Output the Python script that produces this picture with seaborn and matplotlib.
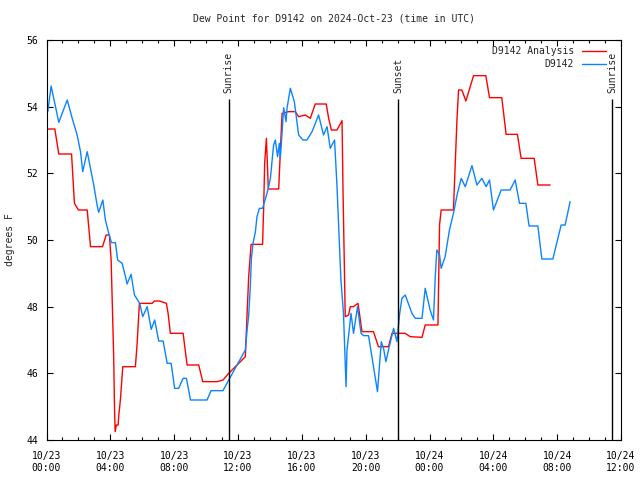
import matplotlib
matplotlib.use("Agg")
import matplotlib.pyplot as plt
from matplotlib.ticker import MultipleLocator
import seaborn as sns
import pandas as pd

title = "Dew Point for D9142 on 2024-Oct-23 (time in UTC)"

# hours since 2024-10-23 00:00 UTC, dew point in deg F
analysis_hours = [0.0, 0.52, 0.77, 1.57, 1.75, 2.0, 2.55, 2.76, 3.51, 3.74, 3.94, 4.05,
                  4.13, 4.21, 4.26, 4.30, 4.38, 4.49, 4.53, 4.63, 4.78, 5.57, 5.68, 5.82,
                  6.62, 6.76, 7.08, 7.51, 7.62, 7.76, 8.56, 8.81, 9.54, 9.79, 10.69, 11.06,
                  11.42, 12.46, 12.57, 12.67, 12.82, 13.54, 13.61, 13.67, 13.78, 13.9, 14.03,
                  14.55, 14.76, 15.17, 15.59, 15.8, 16.22, 16.53, 16.84, 17.53, 17.68, 17.85,
                  18.2, 18.52, 18.58, 18.72, 18.93, 19.04, 19.24, 19.52, 19.77, 20.49, 20.8,
                  21.43, 21.65, 22.48, 22.79, 23.53, 23.73, 24.53, 24.63, 24.73, 25.5, 25.72,
                  25.82, 26.03, 26.28, 26.76, 27.53, 27.76, 28.53, 28.8, 29.51, 29.74, 30.56,
                  30.79, 31.56]
analysis_dewpt = [53.33, 53.33, 52.58, 52.58, 51.1, 50.9, 50.9, 49.8, 49.8, 50.15, 50.15, 49.4,
                  47.96, 46.5, 45.0, 44.25, 44.45, 44.45, 44.75, 45.2, 46.2, 46.2, 46.9, 48.1,
                  48.1, 48.17, 48.17, 48.1, 47.8, 47.2, 47.2, 46.25, 46.25, 45.75, 45.75, 45.8,
                  46.0, 46.5, 47.8, 48.9, 49.87, 49.87, 51.0, 52.3, 53.05, 51.53, 51.53,
                  51.53, 53.8, 53.85, 53.85, 53.7, 53.75, 53.65, 54.08, 54.08, 53.65, 53.3,
                  53.3, 53.58, 51.5, 47.7, 47.75, 48.0, 48.0, 48.1, 47.25, 47.25, 46.8,
                  46.8, 47.2, 47.2, 47.1, 47.08, 47.45, 47.45, 50.45, 50.9, 50.9, 53.6,
                  54.5, 54.5, 54.17, 54.93, 54.93, 54.27, 54.27, 53.17, 53.17, 52.45, 52.45,
                  51.65, 51.65]

obs_hours = [0.08, 0.29, 0.77, 1.30, 1.61, 1.92, 2.13, 2.27, 2.55, 2.96, 3.17, 3.27, 3.53,
             3.69, 3.90, 4.07, 4.32, 4.46, 4.74, 4.95, 5.05, 5.30, 5.51, 5.84, 6.03, 6.31,
             6.56, 6.78, 7.03, 7.31, 7.56, 7.81, 8.03, 8.28, 8.56, 8.77, 9.02, 10.06, 10.31,
             11.06, 11.42, 12.46, 12.57, 12.67, 12.77, 12.84, 12.94, 13.09, 13.19, 13.34,
             13.54, 13.76, 13.92, 14.03, 14.23, 14.34, 14.48, 14.59, 14.65, 14.76, 14.86,
             15.01, 15.07, 15.28, 15.53, 15.80, 16.07, 16.32, 16.64, 17.05, 17.36, 17.58,
             17.78, 18.05, 18.20, 18.45, 18.61, 18.77, 18.83, 18.99, 19.08, 19.24, 19.49,
             19.71, 19.87, 20.18, 20.39, 20.74, 20.98, 21.12, 21.27, 21.43, 21.75, 21.96,
             22.12, 22.27, 22.48, 22.90, 23.11, 23.53, 23.73, 24.04, 24.25, 24.36, 24.46,
             24.63, 24.73, 24.98, 25.25, 25.50, 25.75, 25.99, 26.24, 26.66, 26.97, 27.28,
             27.55, 27.76, 28.01, 28.49, 29.05, 29.37, 29.64, 30.04, 30.24, 30.79, 31.04,
             31.73, 32.25, 32.50, 32.81]
obs_dewpt = [53.85, 54.62, 53.53, 54.2, 53.65, 53.15, 52.65, 52.05, 52.65, 51.65, 51.05, 50.83,
             51.2, 50.6, 50.2, 49.92, 49.92, 49.4, 49.3, 48.9, 48.68, 48.97, 48.35, 48.1, 47.7,
             48.0, 47.32, 47.6, 46.97, 46.97, 46.3, 46.3, 45.55, 45.55, 45.85, 45.85, 45.2,
             45.2, 45.48, 45.48, 45.8, 46.7, 47.3, 47.75, 48.6, 49.45, 49.9, 50.25, 50.7,
             50.95, 50.95, 51.3, 51.6, 51.85, 52.85, 53.0, 52.5, 52.9, 52.45, 53.2, 53.97,
             53.55, 53.95, 54.55, 54.15, 53.15, 53.0, 53.0, 53.25, 53.75, 53.15, 53.4, 52.75,
             53.0, 51.65, 48.8, 47.8, 45.6, 46.7, 47.4, 47.8, 47.2, 48.0, 47.2, 47.13, 47.13,
             46.5, 45.45, 46.95, 46.75, 46.35, 46.7, 47.35, 46.95, 47.75, 48.25, 48.35, 47.8,
             47.65, 47.65, 48.55, 47.9, 47.6, 48.9, 49.7, 49.55, 49.15, 49.5, 50.3, 50.8,
             51.4, 51.85, 51.6, 52.23, 51.65, 51.85, 51.6, 51.8, 50.9, 51.5, 51.5, 51.8,
             51.1, 51.1, 50.42, 50.42, 49.43, 49.43, 50.45, 50.45, 51.15]

sun_events = ["Sunrise", "Sunset", "Sunrise"]
sun_hours = [11.42, 22.04, 35.45]

tick_hours = [0, 4, 8, 12, 16, 20, 24, 28, 32, 36]
tick_labels = ["10/23\n00:00", "10/23\n04:00", "10/23\n08:00", "10/23\n12:00", "10/23\n16:00",
               "10/23\n20:00", "10/24\n00:00", "10/24\n04:00", "10/24\n08:00", "10/24\n12:00"]

sns.set_style("ticks")
plt.rcParams['font.family'] = ['DejaVu Sans Mono']
plt.rcParams['font.size'] = 7

fig = plt.figure(figsize=(6.4, 4.8), dpi=100)
ax = fig.add_axes([46.5 / 640, 40 / 480, 574.5 / 640, 400 / 480])

analysis = pd.DataFrame({'hour': analysis_hours, 'dewpt': analysis_dewpt})
obs = pd.DataFrame({'hour': obs_hours, 'dewpt': obs_dewpt})

sns.lineplot(data=analysis, x='hour', y='dewpt', color='#ff0000', lw=1, sort=False,
             estimator=None, label='D9142 Analysis', ax=ax)
sns.lineplot(data=obs, x='hour', y='dewpt', color='#0a84ff', lw=1, sort=False,
             estimator=None, label='D9142', ax=ax)

# sunrise / sunset markers
for name, h in zip(sun_events, sun_hours):
    ax.vlines(h, 44, 54.22, color='black', lw=1)
    ax.text(h, 54.42, name, rotation=90, ha='center', va='bottom', fontsize=7)

ax.set_xlim(0, 36)
ax.set_ylim(44, 56)
ax.set_xticks(tick_hours)
ax.set_xticklabels(tick_labels)
ax.xaxis.set_minor_locator(MultipleLocator(1))
ax.set_yticks(range(44, 57, 2))
ax.tick_params(which='both', direction='in', top=True, right=True, width=0.8, colors='black')
ax.tick_params(which='major', length=4.5, pad=6)
ax.tick_params(axis='x', which='major', pad=8)
ax.tick_params(which='minor', length=2.5)
for s in ax.spines.values():
    s.set_linewidth(0.8)
    s.set_color('black')

ax.set_xlabel('')
ax.set_ylabel('degrees F', fontsize=7)
ax.yaxis.set_label_coords(-0.055, 0.5)
ax.set_title(title, fontsize=7, pad=13.5)

ax.legend(loc='upper right', bbox_to_anchor=(0.985, 1.0), frameon=False, markerfirst=False,
          handlelength=2.5, handletextpad=0.8, labelspacing=0.3, borderaxespad=0.25, fontsize=7)

fig.savefig('out.png', dpi=100)
